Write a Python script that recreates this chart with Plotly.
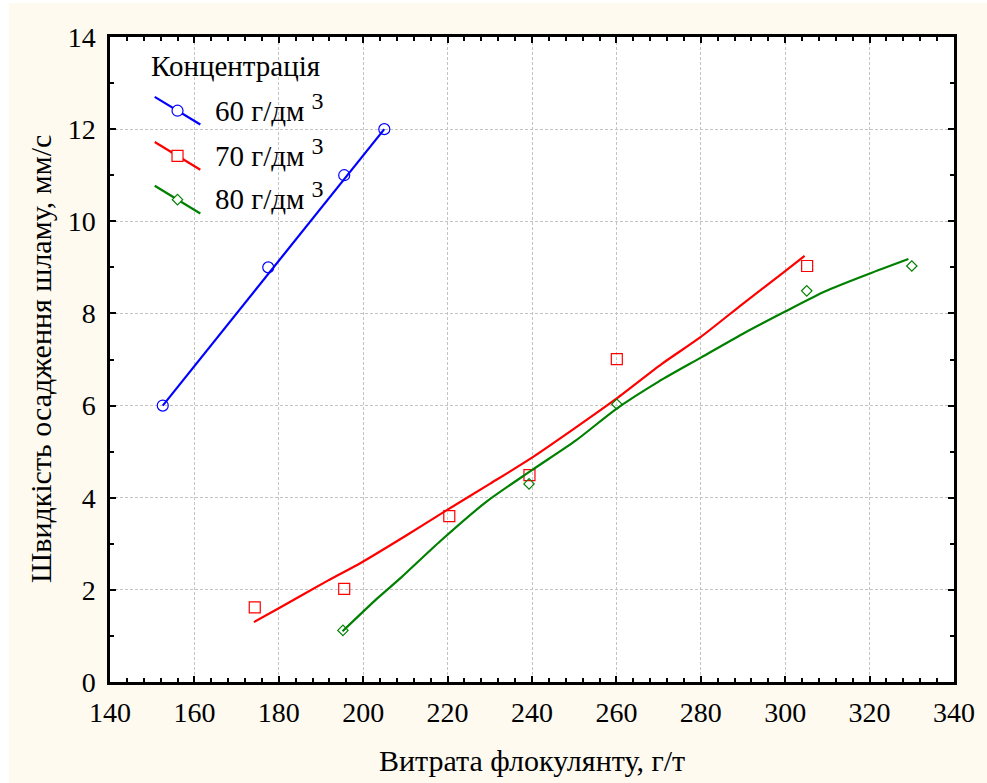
import plotly.graph_objects as go

# ---- data ----
x60 = [152.5, 177.5, 195.5, 205.0]
y60 = [6.0, 9.0, 11.0, 12.0]
fit60_x = [152.5, 205.0]
fit60_y = [6.0, 12.0]

x70 = [174.3, 195.5, 220.4, 239.4, 260.1, 305.2]
y70 = [1.62, 2.02, 3.60, 4.49, 7.01, 9.03]
fit70_x = [174.1, 180.0, 191.6, 199.5, 210.0, 220.0, 230.0, 240.0, 250.0, 260.0, 270.7, 280.0, 290.1, 300.0, 304.6]
fit70_y = [1.30, 1.60, 2.20, 2.59, 3.17, 3.74, 4.30, 4.87, 5.50, 6.15, 6.90, 7.49, 8.22, 8.92, 9.25]

x80 = [195.2, 239.3, 260.1, 305.1, 330.0]
y80 = [1.12, 4.30, 6.03, 8.49, 9.03]
fit80_x = [195.1, 203.4, 208.9, 218.3, 229.3, 240.0, 250.5, 260.0, 270.0, 280.0, 290.0, 300.0, 309.5, 319.6, 329.2]
fit80_y = [1.10, 1.82, 2.26, 3.06, 3.92, 4.60, 5.25, 5.93, 6.52, 7.04, 7.56, 8.04, 8.48, 8.85, 9.18]

series_labels = ["60 г/дм", "70 г/дм", "80 г/дм"]
unit_sup = "3"
colors = ["#0000FF", "#FF0000", "#008000"]
symbols = ["circle-open", "square-open", "diamond-open"]
leg_symbols = ["circle", "square", "diamond"]
msizes = [11, 11, 8]

x_ticks = list(range(140, 341, 20))
y_ticks = list(range(0, 15, 2))

# legend glyph placement (in data units)
leg_x = [150.6, 161.4]
leg_top = [12.70, 11.72, 10.77]
leg_drop = 0.60

FONT = "Liberation Serif"

fig = go.Figure()

fits = [(fit60_x, fit60_y), (fit70_x, fit70_y), (fit80_x, fit80_y)]
pts = [(x60, y60), (x70, y70), (x80, y80)]
for i in range(3):
    fig.add_trace(go.Scatter(x=fits[i][0], y=fits[i][1], mode="lines",
                             line=dict(color=colors[i], width=2.2, shape="spline", smoothing=0.7),
                             showlegend=False, hoverinfo="skip"))
    fig.add_trace(go.Scatter(x=pts[i][0], y=pts[i][1], mode="markers",
                             marker=dict(symbol=symbols[i], size=msizes[i], color=colors[i],
                                         line=dict(width=1.2, color=colors[i])),
                             showlegend=False))

# custom legend (diagonal glyphs)
for i in range(3):
    y0 = leg_top[i]
    y1 = y0 - leg_drop
    fig.add_trace(go.Scatter(x=leg_x, y=[y0, y1], mode="lines",
                             line=dict(color=colors[i], width=2.2), showlegend=False, hoverinfo="skip"))
    fig.add_trace(go.Scatter(x=[(leg_x[0] + leg_x[1]) / 2], y=[(y0 + y1) / 2], mode="markers",
                             marker=dict(symbol=leg_symbols[i], size=msizes[i], color="white",
                                         line=dict(width=1.2, color=colors[i])),
                             showlegend=False, hoverinfo="skip"))
    fig.add_annotation(x=164.5, y=(y0 + y1) / 2 + 0.08, xref="x", yref="y",
                       text=series_labels[i] + " <sup><span style='font-size:24px'>" + unit_sup + "</span></sup>",
                       showarrow=False, xanchor="left", yanchor="middle",
                       font=dict(family=FONT, size=29, color="black"))

fig.add_annotation(x=149.3, y=13.37, xref="x", yref="y", text="Концентрація", showarrow=False,
                   xanchor="left", yanchor="middle", font=dict(family=FONT, size=29, color="black"))

# axis titles
fig.add_annotation(x=0.5, y=-0.121, xref="paper", yref="paper", text="Витрата флокулянту, г/т",
                   showarrow=False, xanchor="center", yanchor="middle",
                   font=dict(family=FONT, size=30, color="black"))
fig.add_annotation(x=-0.0823, y=0.5, xref="paper", yref="paper", text="Швидкість осадження шламу, мм/с",
                   showarrow=False, textangle=-90, xanchor="center", yanchor="middle",
                   font=dict(family=FONT, size=30, color="black"))

# background: cream page with thin white strip at left/top, white plot area
fig.add_shape(type="rect", xref="paper", yref="paper", x0=-0.1199, x1=1.04, y0=-0.17, y1=1.0527,
              fillcolor="#FEFAF0", line=dict(width=0), layer="below")
fig.add_shape(type="rect", xref="paper", yref="paper", x0=0, x1=1, y0=0, y1=1,
              fillcolor="white", line=dict(width=0), layer="below")

axis_common = dict(showline=True, linecolor="black", linewidth=2.5, mirror="ticks",
                   ticks="inside", ticklen=6, tickwidth=1.5, tickcolor="black",
                   showgrid=True, gridcolor="#C4C4C4", gridwidth=1, griddash="3px,2px",
                   zeroline=False, tickfont=dict(family=FONT, size=28, color="black"))

fig.update_xaxes(range=[140, 340], tickvals=x_ticks, ticktext=[str(v) for v in x_ticks],
                 minor=dict(dtick=4, tick0=140, ticks="inside", ticklen=4, tickwidth=1.5,
                            tickcolor="black", showgrid=False),
                 ticklabelstandoff=4, **axis_common)
fig.update_yaxes(range=[0, 14], tickvals=y_ticks, ticktext=[str(v) for v in y_ticks],
                 minor=dict(dtick=1, tick0=0, ticks="inside", ticklen=4, tickwidth=1.5,
                            tickcolor="black", showgrid=False),
                 ticklabelstandoff=6, **axis_common)

fig.update_layout(width=987, height=783, margin=dict(l=110, r=26, t=37, b=101),
                  paper_bgcolor="white", plot_bgcolor="white", showlegend=False,
                  font=dict(family=FONT, color="black"))

fig.write_html("out.html")
